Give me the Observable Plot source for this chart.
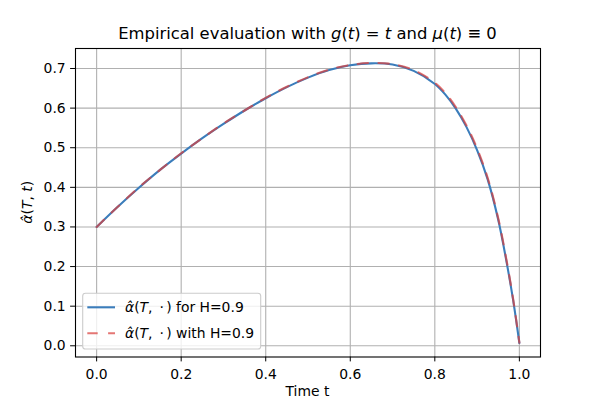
<!DOCTYPE html>
<html><head><meta charset="utf-8">
<script src="https://cdn.jsdelivr.net/npm/d3@7"></script>
<script src="https://cdn.jsdelivr.net/npm/@observablehq/plot@0.6"></script>
<style>
body{margin:0;background:#fff;}
#title{box-sizing:border-box;width:600px;height:46px;padding:24px 0 0 15px;text-align:center;font-family:"DejaVu Sans";font-size:16.4px;line-height:20px;color:#000;white-space:nowrap;overflow:visible;}
#title i{font-style:italic;}
</style></head><body>
<div id="title">Empirical evaluation with <i>g</i>(<i>t</i>) = <i>t</i> and <i>μ</i>(<i>t</i>) ≡ 0</div>
<div id="chart"></div>
<script>
const t         = [0, 0.05, 0.1, 0.15, 0.2, 0.25, 0.3, 0.35, 0.4, 0.45, 0.5, 0.55, 0.6, 0.65, 0.7, 0.75, 0.8, 0.825, 0.85, 0.875, 0.9, 0.925, 0.95, 0.97, 0.985, 1.0];
const alphaFor  = [0.300, 0.351, 0.399, 0.444, 0.485, 0.524, 0.560, 0.594, 0.625, 0.653, 0.677, 0.696, 0.708, 0.713, 0.710, 0.694, 0.661, 0.634, 0.598, 0.552, 0.494, 0.420, 0.318, 0.210, 0.117, 0.007];
const alphaWith = [0.300, 0.351, 0.400, 0.444, 0.486, 0.524, 0.561, 0.594, 0.626, 0.654, 0.678, 0.697, 0.709, 0.714, 0.711, 0.696, 0.664, 0.638, 0.602, 0.556, 0.498, 0.424, 0.322, 0.214, 0.120, 0.008];
const xTicks = [0, 0.2, 0.4, 0.6, 0.8, 1.0];
const yTicks = [0, 0.1, 0.2, 0.3, 0.4, 0.5, 0.6, 0.7];
const seriesNames = ["for H=0.9", "with H=0.9"];
const seriesColors = ["#3b7dbb", "#d9413f"];
const xDomain = [-0.05, 1.05];
const yDomain = [-0.0283, 0.7505];

const dataFor = t.map((x, i) => ({t: x, a: alphaFor[i]}));
const dataWith = t.map((x, i) => ({t: x, a: alphaWith[i]}));
const fmt = d3.format(".1f");

const plot = Plot.plot({
  width: 600, height: 354,
  marginTop: 2, marginBottom: 43.5, marginLeft: 75, marginRight: 60,
  style: {fontFamily: "DejaVu Sans", fontSize: "13.9px", background: "white", color: "black", overflow: "visible"},
  x: {domain: xDomain, ticks: xTicks, tickFormat: fmt, label: null},
  y: {domain: yDomain, ticks: yTicks, tickFormat: fmt, label: null},
  marks: [
    Plot.gridX(xTicks, {stroke: "#b0b0b0", strokeOpacity: 1, strokeWidth: 1.1}),
    Plot.gridY(yTicks, {stroke: "#b0b0b0", strokeOpacity: 1, strokeWidth: 1.1}),
    Plot.line(dataFor, {x: "t", y: "a", stroke: seriesColors[0], strokeWidth: 2.1, curve: "catmull-rom"}),
    Plot.line(dataWith, {x: "t", y: "a", stroke: seriesColors[1], strokeOpacity: 0.72, strokeWidth: 2.1, strokeDasharray: "10.4,10.4", curve: "catmull-rom"}),
    Plot.axisX(xTicks, {tickSize: 4.9, tickPadding: 7.7, tickFormat: fmt, label: null}),
    Plot.axisY(yTicks, {tickSize: 4.9, tickPadding: 4.9, tickFormat: fmt, label: null}),
    Plot.frame({stroke: "black", strokeWidth: 1.1})
  ]
});
document.getElementById("chart").appendChild(plot);

const svg = d3.select(plot);
const txt = (sel) => sel.attr("fill", "black").style("font-family", "DejaVu Sans").style("font-size", "13.9px");
// y label
const yl = txt(svg.append("text")
  .attr("transform", "translate(32,156.25) rotate(-90)")
  .attr("text-anchor", "middle"));
yl.append("tspan").attr("font-style", "italic").text("α\u0302");
yl.append("tspan").text("(");
yl.append("tspan").attr("font-style", "italic").text("T");
yl.append("tspan").text(", ");
yl.append("tspan").attr("font-style", "italic").text("t");
yl.append("tspan").text(")");
// x label
txt(svg.append("text").attr("x", 307.5).attr("y", 350).attr("text-anchor", "middle")).text("Time t");

// legend
const leg = svg.append("g");
leg.append("rect").attr("x", 82.7).attr("y", 247.3).attr("width", 178).attr("height", 55.7)
  .attr("rx", 2.8).attr("fill", "white").attr("fill-opacity", 0.8)
  .attr("stroke", "#cccccc").attr("stroke-width", 1.1);
seriesNames.forEach((name, i) => {
  const y = 261.3 + i * 26;
  const ln = leg.append("line").attr("x1", 87.3).attr("x2", 115).attr("y1", y).attr("y2", y)
    .attr("stroke", seriesColors[i]).attr("stroke-width", 2.1);
  if (i === 1) ln.attr("stroke-dasharray", "10.4,10.4").attr("stroke-opacity", 0.72);
  const tx = txt(leg.append("text").attr("x", 125).attr("y", y + 5).attr("text-anchor", "start"));
  tx.append("tspan").attr("font-style", "italic").text("α\u0302");
  tx.append("tspan").text("(");
  tx.append("tspan").attr("font-style", "italic").text("T");
  tx.append("tspan").text(",\u2002\u00b7\u2006) " + name);
});
</script>
</body></html>
